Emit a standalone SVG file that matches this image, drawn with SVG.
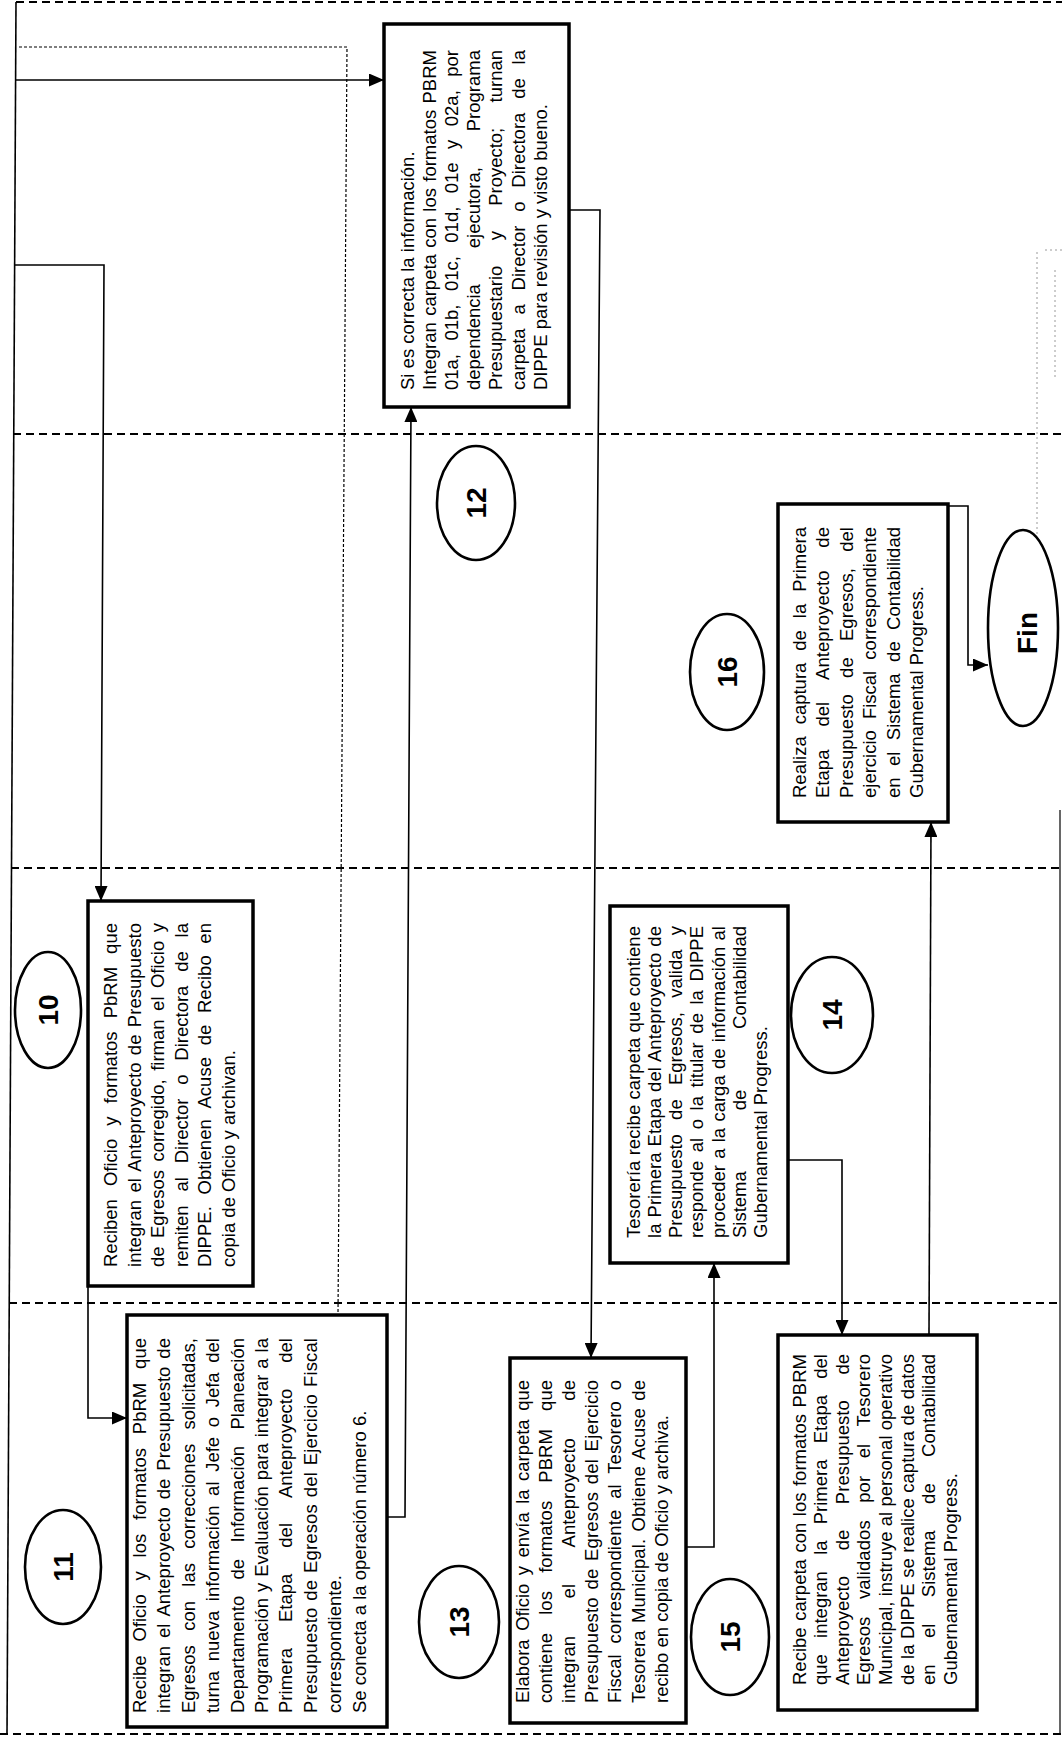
<svg xmlns="http://www.w3.org/2000/svg" width="1062" height="1737" viewBox="0 0 1062 1737">
<defs>
<marker id="arr" markerUnits="userSpaceOnUse" markerWidth="16" markerHeight="13" refX="15" refY="6.5" orient="auto">
<path d="M0,0 L15,6.5 L0,13 z" fill="#000"/>
</marker>
<style>
.box{fill:#fff;stroke:#000;stroke-width:3.5}
.oval{fill:#fff;stroke:#000;stroke-width:2.6}
.t{font-family:"Liberation Sans",Arial,sans-serif;font-size:18.5px;fill:#000}
.n{font-family:"Liberation Sans",Arial,sans-serif;font-size:28px;font-weight:bold;text-anchor:middle;fill:#000}
.c{fill:none;stroke:#000;stroke-width:1.6}
.lane{fill:none;stroke:#000;stroke-width:2;stroke-dasharray:8 5}
.art{fill:none;stroke:#9a9a9a;stroke-width:1;stroke-dasharray:2 3}
</style>
</defs>
<rect x="0" y="0" width="1062" height="1737" fill="#fff"/>
<g id="lanes">
<path class="lane" d="M16,2 H1062"/>
<path class="lane" d="M13,434 H1062"/>
<path class="lane" d="M11,868 H1062"/>
<path class="lane" d="M9,1303 H1062"/>
<path class="lane" d="M0,1734 H1062"/>
<path d="M1060,810 V1734" fill="none" stroke="#000" stroke-width="1.2"/>
<path class="art" d="M1045,250 H1062 M1037,252 V600 L1058,612 M1055,270 V380"/>
</g>
<g id="connectors">
<path class="c" d="M16,2 L7,1734" stroke-width="2"/>
<path class="c" d="M16,80 H384" marker-end="url(#arr)"/>
<path d="M19,47 H347 L338,1315" fill="none" stroke="#000" stroke-width="1.2" stroke-dasharray="3 2"/>
<path class="c" d="M15,265 H104 L101,901" marker-end="url(#arr)"/>
<path class="c" d="M88,1286 V1418 H127" marker-end="url(#arr)"/>
<path class="c" d="M387,1517 H405 L411,407" marker-end="url(#arr)"/>
<path class="c" d="M569,210 H600 L591,1358" marker-end="url(#arr)"/>
<path class="c" d="M686,1547 H714 V1263" marker-end="url(#arr)"/>
<path class="c" d="M788,1160 H842 V1335" marker-end="url(#arr)"/>
<path class="c" d="M929,1335 L931,822" marker-end="url(#arr)"/>
<path class="c" d="M948,506 H968 V665 H988" marker-end="url(#arr)"/>
</g>
<g id="node-10">
<ellipse class="oval" cx="48" cy="1010" rx="33" ry="58"/>
<text class="n" transform="translate(48,1010) rotate(-90)" x="0" y="10">10</text>
<rect class="box" x="88" y="901" width="165" height="385"/>
<g class="t" transform="translate(88,1267) rotate(-90)">
<text x="0" y="29" word-spacing="7.9" textLength="344" lengthAdjust="spacing">Reciben Oficio y formatos PbRM que</text>
<text x="0" y="52.6" word-spacing="2.2" textLength="344" lengthAdjust="spacing">integran el Anteproyecto de Presupuesto</text>
<text x="0" y="76.2" word-spacing="3.3" textLength="344" lengthAdjust="spacing">de Egresos corregido, firman el Oficio y</text>
<text x="0" y="99.8" word-spacing="8.7" textLength="344" lengthAdjust="spacing">remiten al Director o Directora de la</text>
<text x="0" y="123.4" word-spacing="6.5" textLength="344" lengthAdjust="spacing">DIPPE. Obtienen Acuse de Recibo en</text>
<text x="0" y="147">copia de Oficio y archivan.</text>
</g>
</g>
<g id="node-11">
<ellipse class="oval" cx="63" cy="1567" rx="38" ry="57"/>
<text class="n" transform="translate(63,1567) rotate(-90)" x="0" y="10">11</text>
<rect class="box" x="127" y="1315" width="260" height="412"/>
<g class="t" transform="translate(127,1713) rotate(-90)">
<text x="0" y="19" word-spacing="8.7" textLength="375" lengthAdjust="spacing">Recibe Oficio y los formatos PbRM que</text>
<text x="0" y="43.4" word-spacing="2.8" textLength="375" lengthAdjust="spacing">integran el Anteproyecto de Presupuesto de</text>
<text x="0" y="67.8" word-spacing="9.2" textLength="375" lengthAdjust="spacing">Egresos con las correcciones solicitadas,</text>
<text x="0" y="92.2" word-spacing="4.5" textLength="375" lengthAdjust="spacing">turna nueva información al Jefe o Jefa del</text>
<text x="0" y="116.6" word-spacing="11.2" textLength="375" lengthAdjust="spacing">Departamento de Información Planeación</text>
<text x="0" y="141" word-spacing="0.8" textLength="375" lengthAdjust="spacing">Programación y Evaluación para integrar a la</text>
<text x="0" y="165.4" word-spacing="20.7" textLength="375" lengthAdjust="spacing">Primera Etapa del Anteproyecto del</text>
<text x="0" y="189.8" word-spacing="1.6" textLength="375" lengthAdjust="spacing">Presupuesto de Egresos del Ejercicio Fiscal</text>
<text x="0" y="214.2">correspondiente.</text>
<text x="0" y="238.6">Se conecta a la operación número 6.</text>
</g>
</g>
<g id="node-12">
<ellipse class="oval" cx="476" cy="503" rx="39" ry="57"/>
<text class="n" transform="translate(476,503) rotate(-90)" x="0" y="10">12</text>
<rect class="box" x="384" y="24" width="185" height="383"/>
<g class="t" transform="translate(384,390) rotate(-90)">
<text x="0" y="29.5">Si es correcta la información.</text>
<text x="0" y="51.7" word-spacing="1.2" textLength="340" lengthAdjust="spacing">Integran carpeta con los formatos PBRM</text>
<text x="0" y="73.9" word-spacing="8.3" textLength="340" lengthAdjust="spacing">01a, 01b, 01c, 01d, 01e y 02a, por</text>
<text x="0" y="96.1" word-spacing="30.7" textLength="340" lengthAdjust="spacing">dependencia ejecutora, Programa</text>
<text x="0" y="118.3" word-spacing="20.2" textLength="340" lengthAdjust="spacing">Presupuestario y Proyecto; turnan</text>
<text x="0" y="140.5" word-spacing="8.7" textLength="340" lengthAdjust="spacing">carpeta a Director o Directora de la</text>
<text x="0" y="162.7">DIPPE para revisión y visto bueno.</text>
</g>
</g>
<g id="node-13">
<ellipse class="oval" cx="459" cy="1622" rx="40" ry="56"/>
<text class="n" transform="translate(459,1622) rotate(-90)" x="0" y="10">13</text>
<rect class="box" x="510" y="1358" width="176" height="365"/>
<g class="t" transform="translate(510,1703) rotate(-90)">
<text x="0" y="18.5" word-spacing="3.4" textLength="323" lengthAdjust="spacing">Elabora Oficio y envía la carpeta que</text>
<text x="0" y="41.7" word-spacing="13.1" textLength="323" lengthAdjust="spacing">contiene los formatos PBRM que</text>
<text x="0" y="64.9" word-spacing="32.3" textLength="323" lengthAdjust="spacing">integran el Anteproyecto de</text>
<text x="0" y="88.1" word-spacing="2.3" textLength="323" lengthAdjust="spacing">Presupuesto de Egresos del Ejercicio</text>
<text x="0" y="111.3" word-spacing="5.7" textLength="323" lengthAdjust="spacing">Fiscal correspondiente al Tesorero o</text>
<text x="0" y="134.5" word-spacing="2.1" textLength="323" lengthAdjust="spacing">Tesorera Municipal. Obtiene Acuse de</text>
<text x="0" y="157.7">recibo en copia de Oficio y archiva.</text>
</g>
</g>
<g id="node-14">
<ellipse class="oval" cx="832" cy="1015" rx="41" ry="58"/>
<text class="n" transform="translate(832,1015) rotate(-90)" x="0" y="10">14</text>
<rect class="box" x="610" y="906" width="178" height="357"/>
<g class="t" transform="translate(610,1238) rotate(-90)">
<text x="0" y="29.5" textLength="312" lengthAdjust="spacing">Tesorería recibe carpeta que contiene</text>
<text x="0" y="50.8" word-spacing="0.9" textLength="312" lengthAdjust="spacing">la Primera Etapa del Anteproyecto de</text>
<text x="0" y="72.1" word-spacing="9.1" textLength="312" lengthAdjust="spacing">Presupuesto de Egresos, valida y</text>
<text x="0" y="93.4" word-spacing="3.4" textLength="312" lengthAdjust="spacing">responde al o la titular de la DIPPE</text>
<text x="0" y="114.7" word-spacing="1.1" textLength="312" lengthAdjust="spacing">proceder a la carga de información al</text>
<text x="0" y="136" word-spacing="55.7" textLength="312" lengthAdjust="spacing">Sistema de Contabilidad</text>
<text x="0" y="157.3">Gubernamental Progress.</text>
</g>
</g>
<g id="node-15">
<ellipse class="oval" cx="730" cy="1637" rx="39" ry="58"/>
<text class="n" transform="translate(730,1637) rotate(-90)" x="0" y="10">15</text>
<rect class="box" x="778" y="1335" width="199" height="375"/>
<g class="t" transform="translate(778,1685) rotate(-90)">
<text x="0" y="27.5" word-spacing="1.4" textLength="331" lengthAdjust="spacing">Recibe carpeta con los formatos PBRM</text>
<text x="0" y="49.1" word-spacing="11.1" textLength="331" lengthAdjust="spacing">que integran la Primera Etapa del</text>
<text x="0" y="70.7" word-spacing="20.5" textLength="331" lengthAdjust="spacing">Anteproyecto de Presupuesto de</text>
<text x="0" y="92.3" word-spacing="12.3" textLength="331" lengthAdjust="spacing">Egresos validados por el Tesorero</text>
<text x="0" y="113.9" textLength="331" lengthAdjust="spacing">Municipal, instruye al personal operativo</text>
<text x="0" y="135.5" word-spacing="0.4" textLength="331" lengthAdjust="spacing">de la DIPPE se realice captura de datos</text>
<text x="0" y="157.1" word-spacing="21.3" textLength="331" lengthAdjust="spacing">en el Sistema de Contabilidad</text>
<text x="0" y="178.7">Gubernamental Progress.</text>
</g>
</g>
<g id="node-16">
<ellipse class="oval" cx="727" cy="672" rx="37" ry="58"/>
<text class="n" transform="translate(727,672) rotate(-90)" x="0" y="10">16</text>
<rect class="box" x="778" y="504" width="170" height="318"/>
<g class="t" transform="translate(778,798) rotate(-90)">
<text x="0" y="27.5" word-spacing="6.8" textLength="271" lengthAdjust="spacing">Realiza captura de la Primera</text>
<text x="0" y="51" word-spacing="17.7" textLength="271" lengthAdjust="spacing">Etapa del Anteproyecto de</text>
<text x="0" y="74.5" word-spacing="11.2" textLength="271" lengthAdjust="spacing">Presupuesto de Egresos, del</text>
<text x="0" y="98" word-spacing="6" textLength="271" lengthAdjust="spacing">ejercicio Fiscal correspondiente</text>
<text x="0" y="121.5" word-spacing="6.3" textLength="271" lengthAdjust="spacing">en el Sistema de Contabilidad</text>
<text x="0" y="145">Gubernamental Progress.</text>
</g>
</g>
<g id="node-fin">
<ellipse class="oval" cx="1023" cy="628" rx="35" ry="98"/>
<text class="n" font-size="29" transform="translate(1027,633) rotate(-90)" x="0" y="10">Fin</text>
</g>
</svg>
